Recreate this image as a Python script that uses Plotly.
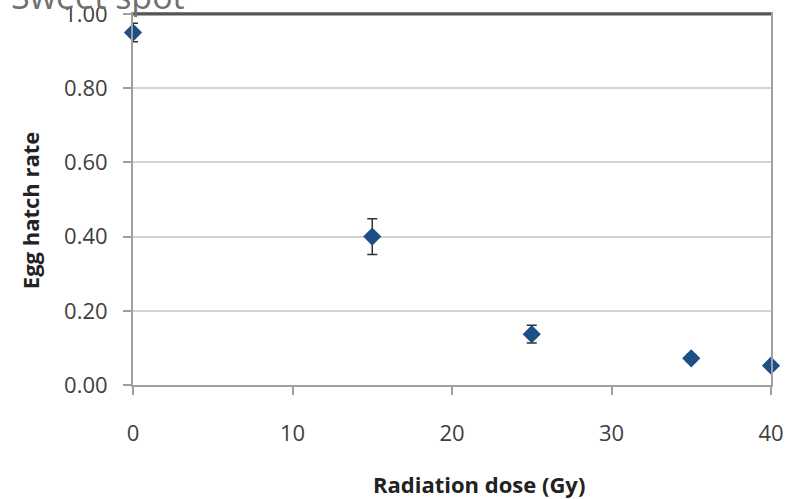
import plotly.graph_objects as go

dose = [0, 15, 25, 35, 40]
hatch_rate = [0.95, 0.40, 0.137, 0.072, 0.052]
err_plus = [0.025, 0.048, 0.024, 0.01, 0.008]
err_minus = [0.025, 0.048, 0.024, 0.01, 0.008]
x_ticks = [0, 10, 20, 30, 40]
y_ticks = [0.0, 0.2, 0.4, 0.6, 0.8, 1.0]
y_tick_labels = ["0.00", "0.20", "0.40", "0.60", "0.80", "1.00"]

fig = go.Figure()
fig.add_trace(go.Scatter(
    x=dose, y=hatch_rate, mode="markers",
    marker=dict(symbol="diamond", size=14, color="#1d4f86",
                line=dict(width=0)),
    error_y=dict(type="data", symmetric=False, array=err_plus,
                 arrayminus=err_minus, color="#333333", thickness=1.5, width=5),
    cliponaxis=False, showlegend=False,
))

fig.update_layout(
    width=787, height=499,
    margin=dict(l=133, r=16, t=14, b=114),
    paper_bgcolor="white", plot_bgcolor="white",
    font=dict(family="Open Sans", color="#404040"),
    xaxis=dict(
        range=[0, 40], tickvals=x_ticks, ticks="outside", ticklen=8,
        tickcolor="#a0a0a0", tickwidth=1.5,
        showline=True, linecolor="#a0a0a0", linewidth=2, mirror=True,
        showgrid=False, zeroline=False, automargin=False,
        tickfont=dict(size=22, color="#404040"),
        ticklabelstandoff=20, ticklabeloverflow="allow",
    ),
    yaxis=dict(
        range=[0, 1.0], tickvals=y_ticks, ticktext=y_tick_labels,
        ticks="outside", ticklen=8, tickcolor="#a0a0a0", tickwidth=1.5,
        showline=True, linecolor="#a0a0a0", linewidth=2, mirror=True,
        showgrid=True, gridcolor="#d4d4d4", gridwidth=1.5, zeroline=False,
        automargin=False,
        tickfont=dict(size=22, color="#404040"),
        ticklabelstandoff=11, ticklabeloverflow="allow",
    ),
    shapes=[dict(type="line", xref="paper", yref="paper",
                 x0=0, x1=1, y0=1, y1=1,
                 line=dict(color="#555555", width=3))],
    annotations=[
        dict(text="Sweet spot", xref="paper", yref="paper",
             x=-0.195, y=1.0, xanchor="left", yanchor="bottom",
             yshift=-7, showarrow=False,
             font=dict(size=34, color="#707070", family="Open Sans")),
        dict(text="<b>Radiation dose (Gy)</b>", xref="paper", yref="paper",
             x=0.542, y=-0.267, xanchor="center", yanchor="middle",
             showarrow=False,
             font=dict(size=22, color="#222222", family="Open Sans")),
        dict(text="<b>Egg hatch rate</b>", xref="paper", yref="paper",
             x=-0.161, y=0.472, xanchor="center", yanchor="middle",
             textangle=-90, showarrow=False,
             font=dict(size=22, color="#222222", family="Open Sans")),
    ],
)

fig.write_html(
    "out.html",
    config={"displayModeBar": False},
    post_script="document.body.style.margin='0';document.body.style.overflow='hidden';",
)
